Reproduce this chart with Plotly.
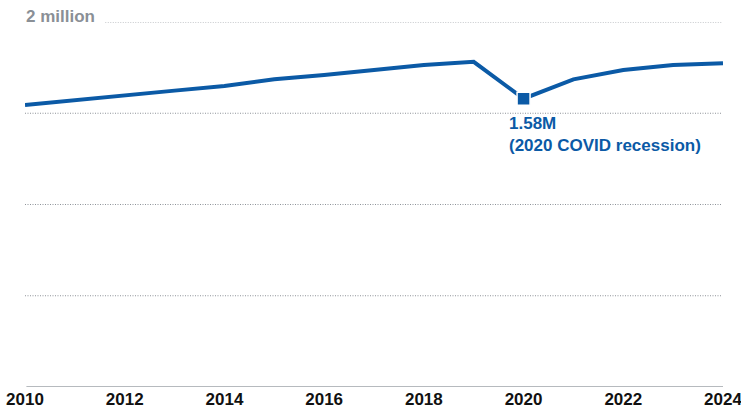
import plotly.graph_objects as go

years = [2010, 2011, 2012, 2013, 2014, 2015, 2016, 2017, 2018, 2019, 2020, 2021, 2022, 2023, 2024]
values_m = [1.545, 1.573, 1.596, 1.624, 1.649, 1.686, 1.710, 1.737, 1.764, 1.782, 1.58, 1.686, 1.737, 1.764, 1.774]
x_ticks = [2010, 2012, 2014, 2016, 2018, 2020, 2022, 2024]
grid_vals = [0.5, 1.0, 1.5, 2.0]
highlight_year = 2020
highlight_value = 1.58
highlight_text = "1.58M<br>(2020 COVID recession)"
top_label = "2 million"

BLUE = "#0b5aa6"
FONT = "Liberation Sans, Arial, sans-serif"

fig = go.Figure()
fig.add_trace(go.Scatter(
    x=years, y=values_m, mode="lines",
    line=dict(color=BLUE, width=4),
    hoverinfo="skip", showlegend=False,
))
fig.add_trace(go.Scatter(
    x=[highlight_year], y=[highlight_value], mode="markers",
    marker=dict(symbol="square", size=13, color=BLUE, line=dict(color="white", width=1.5)),
    hoverinfo="skip", showlegend=False,
))

shapes = []
for v in grid_vals:
    x0 = 0.115 if v == 2.0 else 0.0
    shapes.append(dict(type="line", xref="paper", yref="y", x0=x0, x1=0.9985, y0=v, y1=v,
                       line=dict(color="#8e9399", width=1.2, dash="1px,1.5px"), layer="below"))
shapes.append(dict(type="line", xref="paper", yref="y", x0=0.002, x1=1.0, y0=0, y1=0,
                   line=dict(color="#9ea3a9", width=1.5), layer="below"))

fig.update_layout(
    width=741, height=412,
    margin=dict(l=25, r=18, t=22, b=25, autoexpand=False),
    paper_bgcolor="white", plot_bgcolor="white",
    shapes=shapes,
    xaxis=dict(range=[2010, 2024], tickvals=x_ticks, ticktext=[str(t) for t in x_ticks],
               showgrid=False, zeroline=False, showline=False, ticks="", automargin=False,
               ticklabeloverflow="allow",
               tickfont=dict(family=FONT, size=17, color="#111111", weight="bold"),
               fixedrange=True),
    yaxis=dict(range=[0, 2], showgrid=False, zeroline=False, showline=False,
               showticklabels=False, fixedrange=True, automargin=False),
    annotations=[
        dict(xref="paper", yref="y", x=0.0, y=2.0, xanchor="left", yanchor="bottom",
             text=f"<b>{top_label}</b>", showarrow=False, yshift=-6, xshift=-1,
             font=dict(family=FONT, size=17, color="#8a8f96")),
        dict(xref="x", yref="y", x=highlight_year, y=highlight_value, xanchor="left", yanchor="top",
             text=f"<b>{highlight_text}</b>", showarrow=False, align="left", xshift=-17, yshift=-13,
             font=dict(family=FONT, size=17, color=BLUE)),
    ],
)

fig.write_html("out.html", config={"displayModeBar": False},
               post_script="document.body.style.margin='0px';document.body.style.overflow='hidden';")
